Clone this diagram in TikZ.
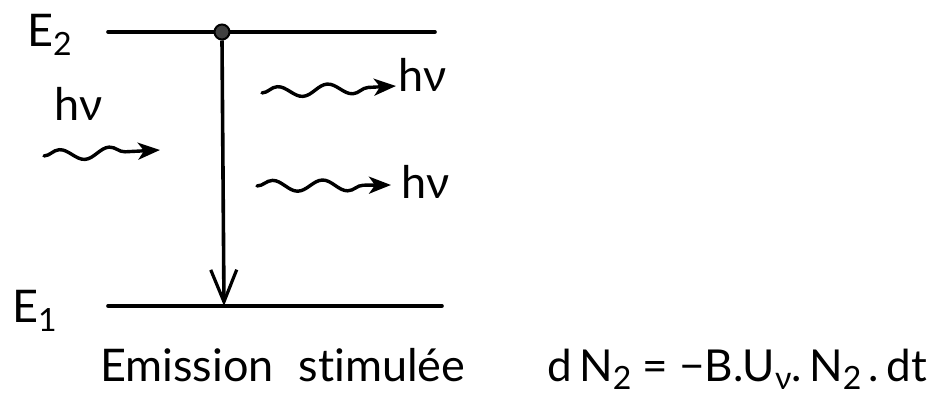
\documentclass[tikz,border=0pt]{standalone}
\usepackage{fontspec}
\setmainfont{Lato}[Ligatures={NoCommon}]
\usetikzlibrary{arrows.meta,decorations.pathmorphing}
\newcommand\lowsub[1]{\raisebox{-0.2em}{\fontsize{32}{32}\selectfont #1}}
\tikzset{
  level/.style={line width=3.6pt, line cap=round},
  trans/.style={line width=3.6pt, -{Straight Barb[length=32pt,width=26pt,line width=3.2pt]}},
  photon/.style={line width=3.4pt, line cap=round,
    decorate, decoration={snake, segment length=50pt, amplitude=5.5pt, post length=18pt},
    -{Stealth[length=22pt,width=17pt,inset=6pt]}},
  atomdot/.style={circle, fill=black!75, draw=black, line width=2pt, minimum size=15pt, inner sep=0pt},
  lbl/.style={font=\fontsize{45}{45}\selectfont, inner sep=0pt, anchor=base west},
  eqlbl/.style={font=\fontsize{44}{44}\selectfont, inner sep=0pt, anchor=base west}
}
\begin{document}
\begin{tikzpicture}[x=1pt,y=-1pt]
\useasboundingbox[fill=white] (0,0) rectangle (939,396);
% energy levels
\coordinate (e2l) at (108,32);
\coordinate (e2r) at (435,32);
\coordinate (e1l) at (108,306);
\coordinate (e1r) at (442,306);
\coordinate (hit) at (224,306);
\draw[level] (e2l) -- (e2r);
\draw[level] (e1l) -- (e1r);
\node[atomdot] (atom) at (222,32) {};
\draw[trans] (atom.south) -- (hit);
% labels
\node[lbl] (E2) at (27,47) {E\lowsub{2}};
\node[lbl] (E1) at (12,322) {E\lowsub{1}};
% photons
\coordinate (p1a) at (44,156);
\coordinate (p1b) at (160,150);
\coordinate (p2a) at (262,93);
\coordinate (p2b) at (396,86);
\coordinate (p3a) at (257,186);
\coordinate (p3b) at (391,185);
\draw[photon] (p1a) -- (p1b);
\draw[photon] (p2a) -- (p2b);
\draw[photon] (p3a) -- (p3b);
\node[lbl] (hv1) at (54,120) {hν};
\node[lbl] (hv2) at (398,92) {hν};
\node[lbl] (hv3) at (401,198) {hν};
% caption and equation
\node[lbl] (cap) at (100,381) {Emission\hspace{0.55em}stimulée};
\node[eqlbl] (eq) at (547,381) {d\,N\lowsub{2} = −B.U\lowsub{ν}.\,N\lowsub{2}\,.\,dt};
\end{tikzpicture}
\end{document}
